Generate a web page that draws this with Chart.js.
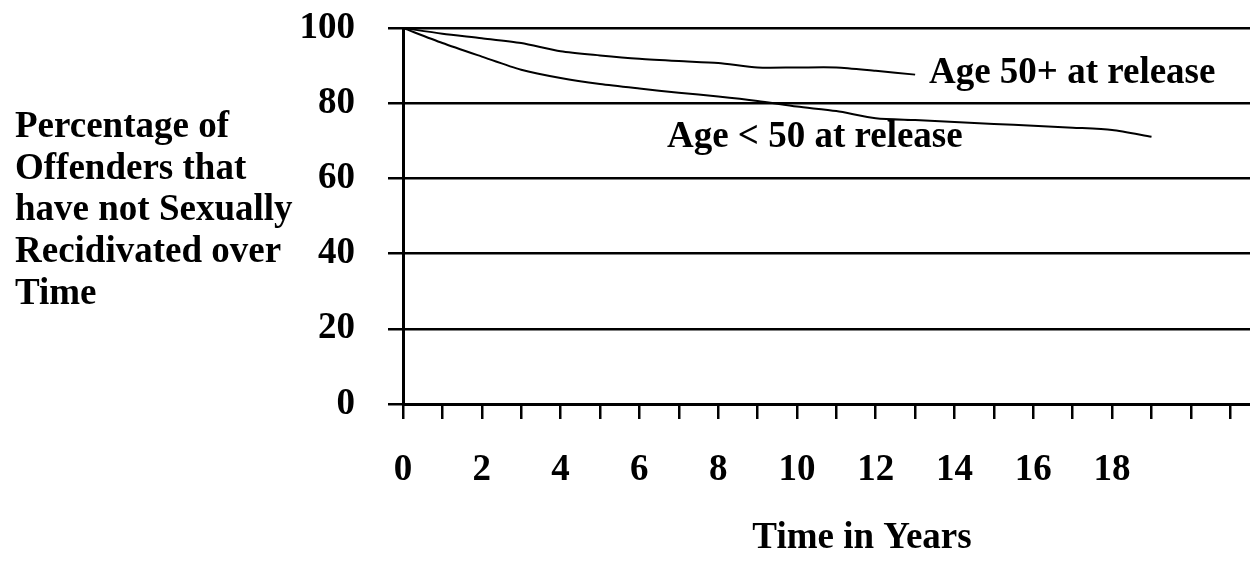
<!DOCTYPE html>
<html>
<head>
<meta charset="utf-8">
<script src="https://cdn.jsdelivr.net/npm/chart.js@4"></script>
<style>
  html, body { margin: 0; padding: 0; background: #fff; }
  canvas { display: block; }
</style>
</head>
<body>
<canvas id="surv" width="1250" height="563"></canvas>
<script>
// years since release
var years = [0, 1, 2, 3, 4, 5, 6, 7, 8, 9, 10, 11, 12, 13, 14, 15, 16, 17, 18, 19];
// % not sexually recidivated
var olderPct = [100, 98.5, 97.3, 96.0, 93.8, 92.7, 91.8, 91.2, 90.7, 89.5, 89.5, 89.5, 88.6, 87.6];
var youngerPct = [100, 96.0, 92.4, 88.9, 86.7, 85.1, 83.9, 82.8, 81.8, 80.6, 79.1, 77.9, 76.0, 75.5, 75.0, 74.5, 74.0, 73.5, 72.9, 71.1];
var xLabels = [0, 2, 4, 6, 8, 10, 12, 14, 16, 18];
var yTicks = [0, 20, 40, 60, 80, 100];
var yTitleLines = ['Percentage of', 'Offenders that', 'have not Sexually', 'Recidivated over', 'Time'];
var xTitle = 'Time in Years';
var seriesNames = ['Age 50+ at release', 'Age < 50 at release'];
// where the series names sit, in data units [year, percent]
var namePos = [[13.35, 85.3], [6.7, 68.3]];

var FONT = '"Liberation Serif", "Times New Roman", serif';
var FSIZE = 37;

function toPoints(vals) {
    return vals.map(function(v, i) { return { x: years[i], y: v }; });
}

var textPlugin = {
    id: 'extraText',
    afterDraw: function(chart) {
        var ctx = chart.ctx;
        var xs = chart.scales.x, ys = chart.scales.y;
        ctx.save();
        ctx.fillStyle = '#000';
        ctx.font = 'bold ' + FSIZE + 'px ' + FONT;
        ctx.textAlign = 'left';
        ctx.textBaseline = 'alphabetic';
        yTitleLines.forEach(function(line, i) {
            ctx.fillText(line, 15, 137 + i * 41.7);
        });
        seriesNames.forEach(function(name, i) {
            ctx.fillText(name, xs.getPixelForValue(namePos[i][0]), ys.getPixelForValue(namePos[i][1]));
        });
        ctx.textAlign = 'center';
        ctx.fillText(xTitle, 862, 548);
        ctx.restore();
    }
};

var ctx = document.getElementById('surv').getContext('2d');
var survChart = new Chart(ctx, {
    type: 'line',
    data: {
        datasets: [{
            label: seriesNames[0],
            data: toPoints(olderPct),
            borderColor: '#000',
            borderWidth: 2,
            pointRadius: 0,
            tension: 0.25,
            fill: false
        }, {
            label: seriesNames[1],
            data: toPoints(youngerPct),
            borderColor: '#000',
            borderWidth: 2,
            pointRadius: 0,
            tension: 0.25,
            fill: false
        }]
    },
    options: {
        responsive: false,
        animation: false,
        devicePixelRatio: 1,
        layout: { padding: { left: 300, right: 0, top: 28, bottom: 72 } },
        plugins: { legend: { display: false }, tooltip: { enabled: false } },
        scales: {
            x: {
                type: 'linear',
                min: 0,
                max: 21.5,
                afterBuildTicks: function(scale) {
                    var t = [];
                    for (var i = 0; i <= 21; i++) t.push({ value: i });
                    scale.ticks = t;
                },
                afterFit: function(scale) {
                    scale.paddingLeft = 0;
                    scale.paddingRight = 0;
                    scale.height = 87;
                },
                ticks: {
                    autoSkip: false,
                    maxRotation: 0,
                    padding: 29,
                    color: '#000',
                    font: { family: FONT, size: FSIZE, weight: 'bold' },
                    callback: function(v) { return xLabels.indexOf(v) >= 0 ? String(v) : ''; }
                },
                grid: { drawOnChartArea: false, drawTicks: true, tickLength: 15, color: '#000', lineWidth: 2.5 },
                border: { display: true, color: '#000', width: 3 }
            },
            y: {
                min: 0,
                max: 100,
                afterBuildTicks: function(scale) {
                    scale.ticks = yTicks.map(function(v) { return { value: v }; });
                },
                afterFit: function(scale) {
                    scale.paddingTop = 0;
                    scale.paddingBottom = 0;
                    scale.width = 103;
                },
                ticks: {
                    padding: 33,
                    color: '#000',
                    font: { family: FONT, size: FSIZE, weight: 'bold' }
                },
                grid: { color: '#000', lineWidth: 2.5, tickLength: 15 },
                border: { display: true, color: '#000', width: 3 }
            }
        }
    },
    plugins: [textPlugin]
});
</script>
</body>
</html>
